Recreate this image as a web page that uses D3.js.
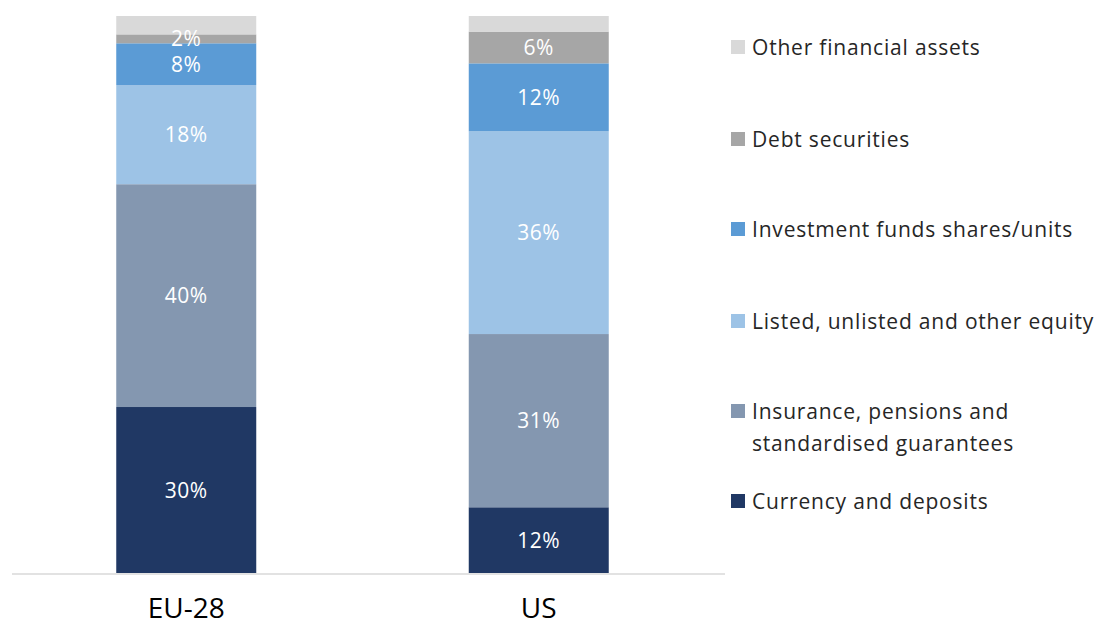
<!DOCTYPE html>
<html>
<head>
<meta charset="utf-8">
<script src="https://cdn.jsdelivr.net/npm/d3@7/dist/d3.min.js"></script>
<style>
  body { margin: 0; background: #fff; }
  svg text { font-family: "Open Sans", "Noto Sans", sans-serif; }
</style>
</head>
<body>
<div id="chart"></div>
<script>
// categories and series (bottom to top of the stack)
let regions = ['EU-28', 'US'];
let seriesNames = ['Currency and deposits', 'Insurance, pensions and standardised guarantees',
    'Listed, unlisted and other equity', 'Investment funds shares/units', 'Debt securities', 'Other financial assets'];
let seriesColors = ['#203864', '#8497b0', '#9dc3e6', '#5b9bd5', '#a6a6a6', '#d9d9d9'];
let euValues = [29.8, 40.0, 17.8, 7.5, 1.6, 3.3];
let usValues = [11.8, 31.1, 36.4, 12.2, 5.7, 2.8];
let showLabel = [true, true, true, true, true, false];
let legendLines = [['Currency and deposits'], ['Insurance, pensions and', 'standardised guarantees'],
    ['Listed, unlisted and other equity'], ['Investment funds shares/units'], ['Debt securities'], ['Other financial assets']];

let width = 1101,
    height = 627,
    barWidth = 140;

let svg = d3.select('#chart').append('svg')
    .attr('width', width)
    .attr('height', height);

let xScale = d3.scalePoint()
    .domain(regions)
    .range([10, 715])
    .padding(0.5);

let yScale = d3.scaleLinear()
    .domain([0, 100])
    .range([573, 16]);

let table = regions.map((r, i) => {
    let row = {region: r};
    let vals = i === 0 ? euValues : usValues;
    seriesNames.forEach((s, j) => row[s] = vals[j]);
    return row;
});

let stacked = d3.stack().keys(seriesNames)(table);

let layer_g = svg.selectAll('.layer')
    .data(stacked)
    .enter().append('g')
    .attr('class', 'layer')
    .attr('fill', (d, i) => seriesColors[i]);

layer_g.selectAll('rect')
    .data(d => d)
    .enter().append('rect')
    .attr('x', d => xScale(d.data.region) - barWidth / 2)
    .attr('width', barWidth)
    .attr('y', d => yScale(d[1]))
    .attr('height', d => yScale(d[0]) - yScale(d[1]));

// value labels
stacked.forEach((layer, i) => {
    if (!showLabel[i]) return;
    svg.append('g').selectAll('text')
        .data(layer)
        .enter().append('text')
        .attr('x', d => xScale(d.data.region))
        .attr('y', d => yScale((d[0] + d[1]) / 2))
        .attr('dy', '0.36em')
        .attr('text-anchor', 'middle')
        .attr('fill', '#fff')
        .style('font-size', '21px')
        .style('letter-spacing', '0.6px')
        .text(d => Math.round(d[1] - d[0]) + '%');
});

// baseline
svg.append('line')
    .attr('x1', 12).attr('x2', 725)
    .attr('y1', yScale(0) + 1).attr('y2', yScale(0) + 1)
    .attr('stroke', '#d9d9d9')
    .attr('stroke-width', 1.5);

svg.append('g').selectAll('text')
    .data(regions)
    .enter().append('text')
    .attr('x', d => xScale(d))
    .attr('y', 618)
    .attr('text-anchor', 'middle')
    .attr('fill', '#000')
    .style('font-size', '28px')
    .text(d => d);

// legend, top to bottom
let legendY = [501, 411, 321, 229, 139, 47];
let legend_g = svg.append('g').attr('class', 'legend');
seriesNames.forEach((s, i) => {
    let g = legend_g.append('g').attr('transform', `translate(731, ${legendY[i]})`);
    g.append('rect')
        .attr('x', 0).attr('y', -7)
        .attr('width', 14).attr('height', 14)
        .attr('fill', seriesColors[i]);
    g.selectAll('text')
        .data(legendLines[i])
        .enter().append('text')
        .attr('x', 21)
        .attr('y', (d, k) => k * 32)
        .attr('dy', '0.36em')
        .attr('fill', '#262626')
        .style('font-size', '21px')
        .style('letter-spacing', '0.8px')
        .text(d => d);
});
</script>
</body>
</html>
